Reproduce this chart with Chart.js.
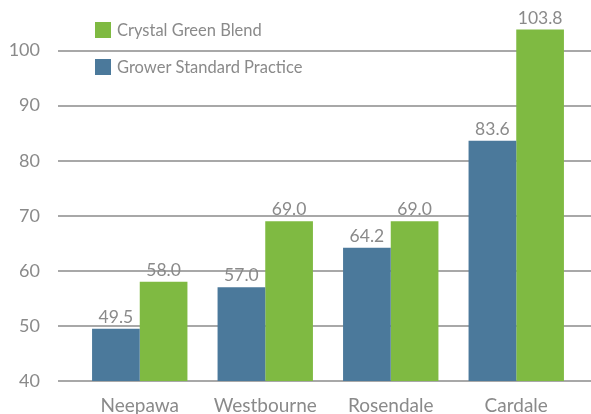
<!DOCTYPE html>
<html>
<head>
<meta charset="utf-8">
<script src="https://cdn.jsdelivr.net/npm/chart.js@4"></script>
<style>
html,body{margin:0;padding:0;background:#fff;}
#wrap{width:591px;height:414px;position:relative;}
</style>
</head>
<body>
<div id="wrap"><canvas id="c" width="591" height="414"></canvas></div>
<script>
const categories = ["Neepawa", "Westbourne", "Rosendale", "Cardale"];
const growerStandard = [49.5, 57.0, 64.2, 83.6];
const crystalGreen = [58.0, 69.0, 69.0, 103.8];
const yTicks = [40, 50, 60, 70, 80, 90, 100];

const BLUE = "#4b799b";
const GREEN = "#7fba42";
const TEXT = "#8a8a8a";
const GRID = "#a8a8a8";
const FONT = "Lato, 'Open Sans', sans-serif";

const gridPlugin = {
  id: "extGrid",
  beforeDatasetsDraw(chart) {
    const ctx = chart.ctx, y = chart.scales.y;
    ctx.save();
    ctx.strokeStyle = GRID;
    ctx.lineWidth = 2;
    yTicks.forEach(v => {
      const py = Math.round(y.getPixelForValue(v));
      ctx.beginPath();
      ctx.moveTo(58, py);
      ctx.lineTo(chart.width, py);
      ctx.stroke();
    });
    ctx.restore();
  }
};

const labelPlugin = {
  id: "valLabels",
  afterDatasetsDraw(chart) {
    const ctx = chart.ctx;
    ctx.save();
    ctx.fillStyle = TEXT;
    ctx.font = "17.5px " + FONT;
    ctx.textAlign = "center";
    ctx.textBaseline = "alphabetic";
    chart.data.datasets.forEach((ds, di) => {
      chart.getDatasetMeta(di).data.forEach((bar, i) => {
        ctx.fillText(ds.data[i].toFixed(1), bar.x, bar.y - 6);
      });
    });
    ctx.restore();
  }
};

const legendPlugin = {
  id: "customLegend",
  afterDraw(chart) {
    const ctx = chart.ctx;
    const items = chart.data.datasets.slice().reverse();
    ctx.save();
    ctx.font = "16.5px " + FONT;
    ctx.textBaseline = "middle";
    ctx.textAlign = "left";
    items.forEach((ds, k) => {
      const top = 22 + k * 37;
      ctx.fillStyle = ds.backgroundColor;
      ctx.fillRect(95, top, 16, 16);
      ctx.fillStyle = TEXT;
      ctx.fillText(ds.label, 117, top + 9);
    });
    ctx.restore();
  }
};

new Chart(document.getElementById("c"), {
  type: "bar",
  data: {
    labels: categories,
    datasets: [
      { label: "Grower Standard Practice", data: growerStandard, backgroundColor: BLUE },
      { label: "Crystal Green Blend", data: crystalGreen, backgroundColor: GREEN }
    ]
  },
  options: {
    responsive: false,
    animation: false,
    devicePixelRatio: 1,
    layout: { padding: { top: 23, right: 12, left: 0, bottom: 0 } },
    plugins: { legend: { display: false }, tooltip: { enabled: false } },
    datasets: { bar: { categoryPercentage: 0.76, barPercentage: 1.0 } },
    scales: {
      x: {
        grid: { display: false, drawTicks: false },
        border: { display: false },
        ticks: { color: TEXT, font: { size: 19, family: FONT, lineHeight: 1.2 }, padding: 13, maxRotation: 0 },
        afterFit(s) { s.height = 33; }
      },
      y: {
        min: 40, max: 105,
        grid: { display: false, drawTicks: true, tickLength: 36 },
        border: { display: false },
        ticks: { stepSize: 10, color: TEXT, font: { size: 18, family: FONT, lineHeight: 0.1 }, padding: 1 },
        afterBuildTicks(s) { s.ticks = yTicks.map(v => ({ value: v })); },
        afterFit(s) { s.width = 77; }
      }
    }
  },
  plugins: [gridPlugin, labelPlugin, legendPlugin]
});
</script>
</body>
</html>
